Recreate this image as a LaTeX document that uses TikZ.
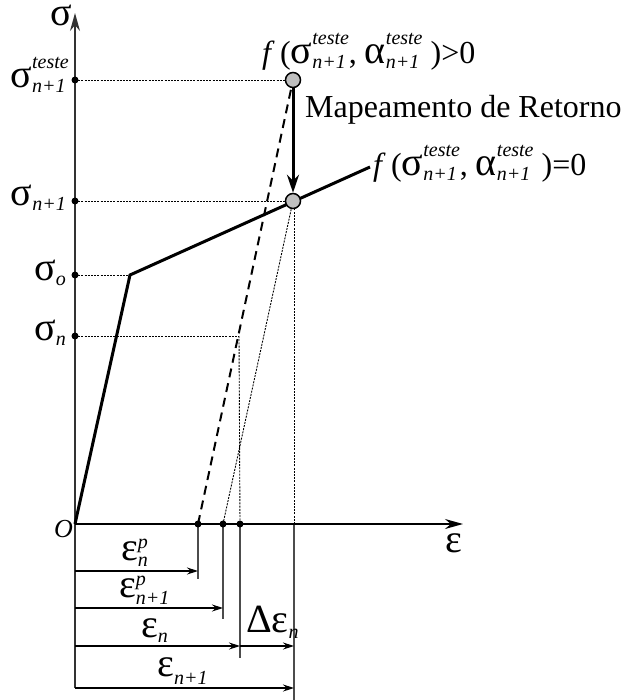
\documentclass[tikz,border=0pt]{standalone}
\usepackage{fontspec}
\setmainfont{Liberation Serif}
\usetikzlibrary{arrows.meta}
\newcommand\scr{\fontsize{20}{22}\selectfont\itshape}
\newcommand\gk[1]{{\fontsize{40}{40}\selectfont #1}}
\newcommand\supsubx[4]{%
  \setbox0\hbox{\scr #1}\setbox2\hbox{\scr #2}%
  \dimen0=\wd0 \ifdim\wd2>\dimen0 \dimen0=\wd2\fi
  \hbox to\dimen0{\rlap{\raise#3\box0}\lower#4\box2\hfil}}
\newcommand\subx[2]{\lower#2\hbox{\scr #1}}
\begin{document}
\begin{tikzpicture}[x=1pt,y=-1pt,font=\fontsize{32}{36}\selectfont,
  axis/.style={draw=black!80,line width=1.5pt},
  curve/.style={line width=3pt},
  guide/.style={line width=0.9pt,dash pattern=on 2pt off 1.2pt},
  trial/.style={line width=2pt,dash pattern=on 9pt off 6pt},
  dimline/.style={draw=black!70,line width=1.5pt},
  dimarrow/.style={line width=1.2pt,-{Stealth[length=11pt,width=7pt]}},
  tickdot/.style={circle,fill=black,inner sep=0pt,minimum size=7pt},
  state/.style={circle,draw=black,line width=1.5pt,fill=black!25,inner sep=0pt,minimum size=15pt},
  lab/.style={inner sep=0pt}]
\useasboundingbox (0,0) rectangle (624,700);
% key points
\coordinate (O) at (75,524);
\coordinate (Ytop) at (75,13);
\coordinate (Ybot) at (75,688);
\coordinate (Xend) at (463,524);
\coordinate (Y0) at (130,275);
\coordinate (Hend) at (370,167);
\coordinate (Sn) at (239,336);
\coordinate (e4) at (294,524);
% dimension line ends
\coordinate (d1) at (198,579);
\coordinate (d2) at (223,619);
\coordinate (d3) at (240,658);
\coordinate (d4) at (294,700);
% arrow coordinates
\coordinate (a1s) at (75,571);  \coordinate (a1e) at (198,571);
\coordinate (a2s) at (75,608);  \coordinate (a2e) at (223,608);
\coordinate (a3s) at (75,646);  \coordinate (a3e) at (240,646);
\coordinate (a4e) at (294,646);
\coordinate (a5s) at (75,688);  \coordinate (a5e) at (294,688);
% guides
\draw[guide] (75,80) -- (293,80);
\draw[guide] (75,201) -- (293,201);
\draw[guide] (75,275) -- (Y0);
\draw[guide] (75,336) -- (Sn);
\draw[guide] (Sn) -- (240,524);
\draw[guide] (223,524) -- (293,201);
\draw[guide] (e4) -- (294,201);
% dimension vertical lines
\draw[dimline] (198,524) -- (d1);
\draw[dimline] (223,524) -- (d2);
\draw[dimline] (240,524) -- (d3);
\draw[dimline] (e4) -- (d4);
% axes
\draw[axis,-{Stealth[length=18pt,width=10pt]}] (Ybot) -- (Ytop);
\draw[line width=1.5pt,-{Stealth[length=18pt,width=10pt]}] (O) -- (Xend);
% curve
\draw[curve,line join=miter] (O) -- (Y0) -- (Hend);
\draw[trial] (198,524) -- (293,80);
% ticks
\node[tickdot] (t1) at (75,80) {};
\node[tickdot] (t2) at (75,201) {};
\node[tickdot] (t3) at (75,275) {};
\node[tickdot] (t4) at (75,336) {};
\node[tickdot] (e1) at (198,524) {};
\node[tickdot] (e2) at (223,524) {};
\node[tickdot] (e3) at (240,524) {};
% states
\node[state] (T) at (293,80) {};
\node[state] (S) at (293,201) {};
\draw[line width=3pt,-{Stealth[length=18pt,width=12pt]}] (T) -- (S);
% dimension arrows
\draw[dimarrow] (a1s) -- (a1e);
\draw[dimarrow] (a2s) -- (a2e);
\draw[dimarrow] (a3s) -- (a3e);
\draw[dimarrow] (a3e) -- (a4e);
\draw[dimarrow] (a5s) -- (a5e);
% axis labels
\node[lab,anchor=base east] (lsig) at (72,26) {\gk{σ}};
\node[lab,anchor=base] (leps) at (454,552) {\gk{ε}};
\node[lab,anchor=base east,font=\fontsize{26}{28}\selectfont\itshape] (lO) at (73,537) {O};
\node[lab,anchor=base east] (l1) at (69,88) {\gk{σ}\supsubx{teste}{n+1}{19pt}{5pt}};
\node[lab,anchor=base east] (l2) at (66,206) {\gk{σ}\subx{n+1}{5pt}};
\node[lab,anchor=base east] (l3) at (66,280) {\gk{σ}\subx{o}{5pt}};
\node[lab,anchor=base east] (l4) at (66,340) {\gk{σ}\subx{n}{5pt}};
% right labels
\node[lab,anchor=base west] (f1) at (262,64) {\textit{f}\,(\gk{σ}\supsubx{teste}{n+1}{19pt}{5pt}, \gk{α}\supsubx{teste}{n+1}{19pt}{5pt}\ )>0};
\node[lab,anchor=base west] (map) at (305,118) {Mapeamento de Retorno};
\node[lab,anchor=base west] (f0) at (373,176) {\textit{f}\,(\gk{σ}\supsubx{teste}{n+1}{19pt}{5pt}, \gk{α}\supsubx{teste}{n+1}{19pt}{5pt}\ )=0};
% dimension labels
\node[lab,anchor=base west] (m1) at (121,560) {\gk{ε}\supsubx{p}{n}{12pt}{6pt}};
\node[lab,anchor=base west] (m2) at (119,597) {\gk{ε}\supsubx{p}{n+1}{12pt}{7pt}};
\node[lab,anchor=base west] (m3) at (141,637) {\gk{ε}\subx{n}{5pt}};
\node[lab,anchor=base west] (m4) at (246,632) {\gk{Δε}\subx{n}{6pt}};
\node[lab,anchor=base west] (m5) at (157,676) {\gk{ε}\subx{n+1}{8pt}};
\end{tikzpicture}
\end{document}
